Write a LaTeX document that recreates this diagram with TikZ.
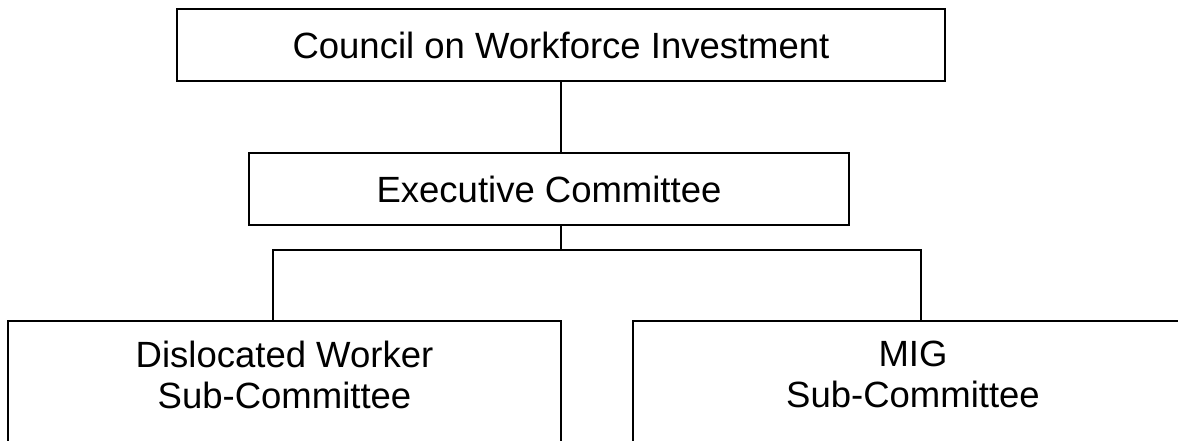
\documentclass[tikz,border=0pt]{standalone}
\usepackage{fontspec}
\setmainfont{Liberation Sans}
\usetikzlibrary{positioning}

\begin{document}
\begin{tikzpicture}[x=1pt, y=1pt, on grid, line width=2pt,
    box/.style={draw, rectangle, inner sep=0pt, align=center,
        font=\fontsize{36.5}{41}\selectfont},
    subbox/.style={box, minimum height=149pt, text depth=42pt}]
    \useasboundingbox (0,0) rectangle (1178,-440);
    \clip (0,0) rectangle (1178,-440);

    \node[box, minimum width=768pt, minimum height=72pt] (council) at (561,-45) {Council on Workforce Investment};
    \node[box, minimum width=600pt, minimum height=72pt] (exec) [below=144pt of council, xshift=-12pt] {Executive Committee};
    \node[subbox, minimum width=553pt] (dislocated) at (284.5,-395.5) {Dislocated Worker\\Sub-Committee};
    \node[subbox, minimum width=560pt] (mig) at (913,-395.5) {MIG\\Sub-Committee};

    \coordinate (fork) at (561,-250);
    \coordinate (left drop) at (273,-250);
    \coordinate (right drop) at (921,-250);

    \draw (council.south) -- (council.south |- exec.north);
    \draw (fork |- exec.south) -- (fork);
    \draw (left drop |- dislocated.north) -- (left drop) -- (right drop) -- (right drop |- mig.north);
    % (exec) -- (mig);
\end{tikzpicture}
\end{document}
